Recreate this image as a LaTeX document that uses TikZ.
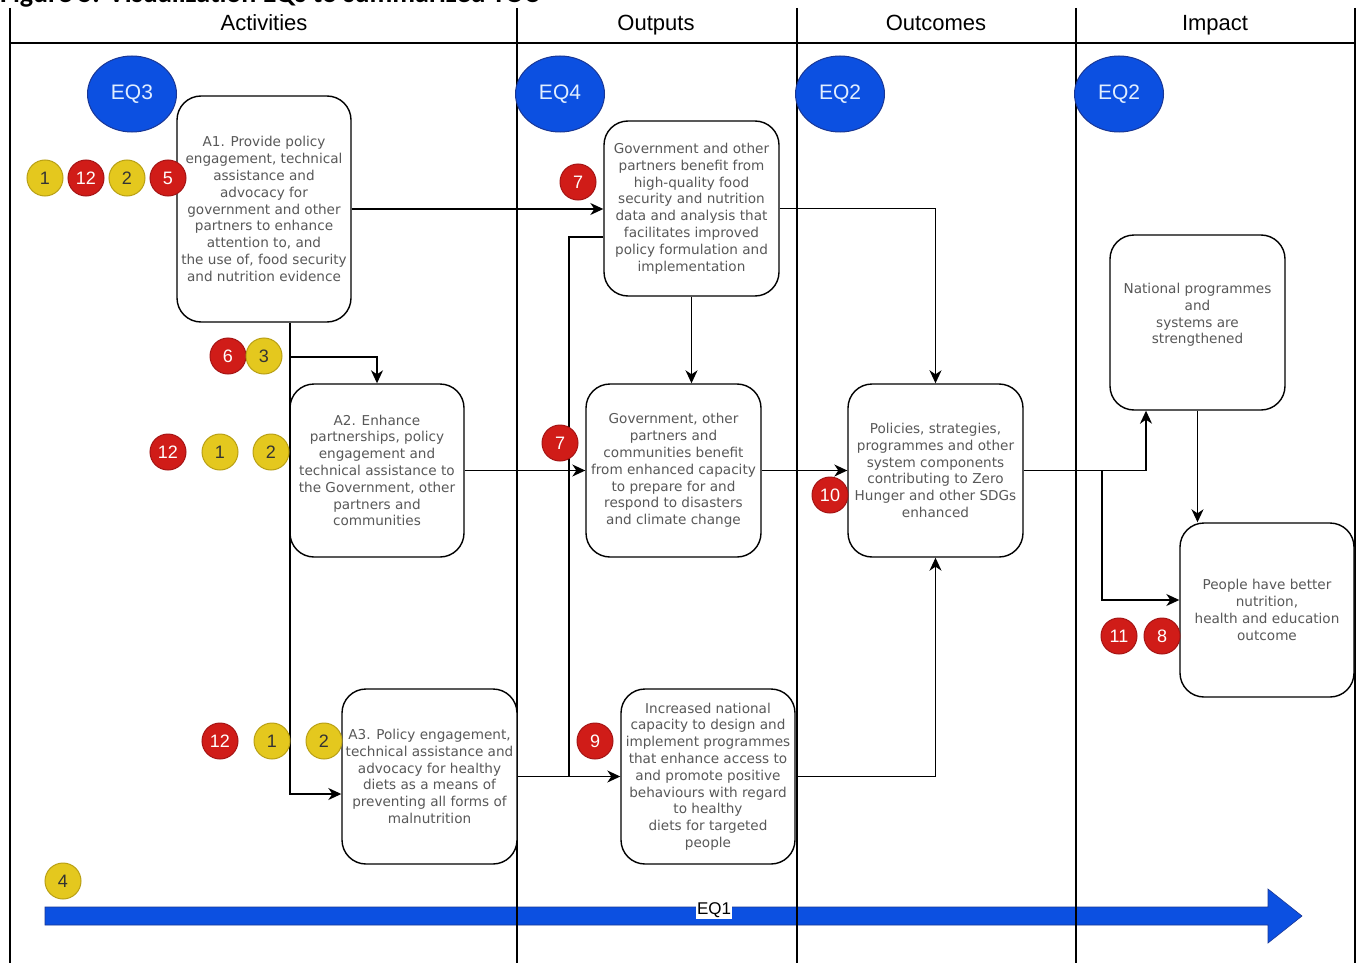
\documentclass[tikz,border=0pt]{standalone}
\usepackage{fontspec}
\setmainfont{Liberation Sans}
\newfontfamily\boxfont{DejaVu Sans}
\newfontfamily\titlefont{Carlito}
\usetikzlibrary{shapes.geometric,arrows.meta}
\definecolor{eqblue}{RGB}{12,80,225}
\definecolor{eqborder}{RGB}{25,55,150}
\definecolor{eqtext}{RGB}{225,238,255}
\definecolor{byellow}{RGB}{228,200,30}
\definecolor{byborder}{RGB}{185,160,20}
\definecolor{bred}{RGB}{208,28,24}
\definecolor{brborder}{RGB}{165,20,20}
\definecolor{boxtext}{RGB}{88,88,88}
\begin{document}
\begin{tikzpicture}[x=1pt,y=-1pt,
  lane/.style={line width=1.3pt,black},
  hdr/.style={font=\fontsize{22}{22}\selectfont,inner sep=0pt,anchor=base},
  box/.style={draw,line width=1.4pt,rounded corners=24pt,fill=white,
    minimum width=174pt,minimum height=174pt,inner sep=0pt,align=center,
    text=boxtext,font=\boxfont\fontsize{13.6}{16.8}\selectfont},
  eq/.style={ellipse,draw=eqborder,line width=1pt,fill=eqblue,text=eqtext,
    minimum width=89pt,minimum height=76pt,inner sep=0pt,font=\fontsize{21}{21}\selectfont},
  yb/.style={circle,draw=byborder,line width=1pt,fill=byellow,text=black!80,
    minimum size=36pt,inner sep=0pt,font=\fontsize{18}{18}\selectfont},
  rb/.style={circle,draw=brborder,line width=1pt,fill=bred,text=white,
    minimum size=36pt,inner sep=0pt,font=\fontsize{18}{18}\selectfont},
  arr/.style={line width=1.5pt,-{Stealth[length=13pt,width=12pt,inset=4pt]}},
  conn/.style={line width=1.5pt}]
\useasboundingbox (0,0) rectangle (1360,963);
\fill[white] (0,0) rectangle (1360,963);

% title (cut off at the top, as in the source)
\node[anchor=base west,inner sep=0pt,font=\titlefont\bfseries\fontsize{28}{28}\selectfont] (title) at (0,2.5) {Figure 5. Visualization EQs to summarized TOC};

% EQ1 arrow
\fill[eqblue] (45,907) -- (1268,907) -- (1268,889) -- (1302,916) -- (1268,943) -- (1268,925) -- (45,925) -- cycle;
\draw[eqborder,line width=0.6pt] (45,907) -- (1268,907) -- (1268,889) -- (1302,916) -- (1268,943) -- (1268,925) -- (45,925) -- cycle;

% lanes
\draw[lane] (10,8) -- (10,963);
\draw[lane] (517,8) -- (517,963);
\draw[lane] (797,8) -- (797,963);
\draw[lane] (1076,8) -- (1076,963);
\draw[lane] (1355,8) -- (1355,963);
\draw[lane] (10,43) -- (1355,43);

\node[fill=white,inner sep=1pt,font=\fontsize{17}{17}\selectfont] (eq1) at (714,910) {EQ1};

% headers
\node[hdr] (hA) at (264,31) {Activities};
\node[hdr] (hO) at (656,31) {Outputs};
\node[hdr] (hC) at (936,31) {Outcomes};
\node[hdr] (hI) at (1215,31) {Impact};

% EQ ellipses
\node[eq] (eq3) at (132,94) {EQ3};
\node[eq] (eq4) at (560,94) {EQ4};
\node[eq] (eq2a) at (840,94) {EQ2};
\node[eq] (eq2b) at (1119,94) {EQ2};

% boxes
\node[box,minimum height=226pt] (A1) at (264,209) {A1. Provide policy\\engagement, technical\\assistance and\\advocacy for\\government and other\\partners to enhance\\attention to, and\\the use of, food security\\and nutrition evidence};
\node[box,minimum height=173pt] (A2) at (377,470.5) {A2. Enhance\\partnerships, policy\\engagement and\\technical assistance to\\the Government, other\\partners and\\communities};
\node[box,minimum width=175pt,minimum height=175pt] (A3) at (429.5,776.5) {A3. Policy engagement,\\technical assistance and\\advocacy for healthy\\diets as a means of\\preventing all forms of\\malnutrition};
\node[box,minimum width=175pt,minimum height=175pt] (O1) at (691.5,208.5) {Government and other\\partners benefit from\\high-quality food\\security and nutrition\\data and analysis that\\facilitates improved\\policy formulation and\\implementation};
\node[box,minimum width=175pt,minimum height=173pt] (O2) at (673.5,470.5) {Government, other\\partners and\\communities benefit\\from enhanced capacity\\to prepare for and\\respond to disasters\\and climate change};
\node[box,minimum width=174pt,minimum height=175pt] (O3) at (708,776.5) {Increased national\\capacity to design and\\implement programmes\\that enhance access to\\and promote positive\\behaviours with regard\\to healthy\\diets for targeted\\people};
\node[box,minimum width=175pt,minimum height=173pt] (OC) at (935.5,470.5) {Policies, strategies,\\programmes and other\\system components\\contributing to Zero\\Hunger and other SDGs\\enhanced};
\node[box,minimum width=175pt,minimum height=175pt] (I1) at (1197.5,322.5) {National programmes\\and\\systems are\\strengthened\\[1.2pt]};
\node[box,minimum width=174pt,minimum height=174pt] (I2) at (1267,610) {People have better\\nutrition,\\health and education\\outcome};

% junction coordinates
\coordinate (j1) at (290,357);
\coordinate (j2) at (290,794);
\coordinate (j3) at (569,776.5);
\coordinate (j4) at (569,237);
\coordinate (j5) at (1146,470.5);
\coordinate (j6) at (1102,470.5);
\coordinate (j7) at (1102,600);

% connectors
\draw[arr] (A1.east) -- (A1.east -| O1.west);
\draw[arr] (A1.south -| j1) -- (j2) -- (j2 -| A3.west);
\draw[arr] (j1) -| (A2.north);
\draw[arr] (A2.east) -- (A2.east -| O2.west);
\draw[arr] (A3.east) -- (O3.west);
\draw[conn] (j3) -- (j4) -- (j4 -| O1.west);
\draw[arr] (O1.south) -- (O1.south |- O2.north);
\draw[arr] (O1.east) -| (OC.north);
\draw[arr] (O2.east) -- (OC.west);
\draw[arr] (O3.east) -| (OC.south);
\draw[arr] (OC.east) -- (j5) -- (j5 |- I1.south);
\draw[arr] (j6) -- (j7) -- (j7 -| I2.west);
\draw[arr] (I1.south) -- (I1.south |- I2.north);

% badges
\node[yb] (b1) at (45,178) {1};
\node[rb] (b2) at (86,178) {12};
\node[yb] (b3) at (127,178) {2};
\node[rb] (b4) at (168,178) {5};
\node[rb] (b5) at (228,356) {6};
\node[yb] (b6) at (264,356) {3};
\node[rb] (b7) at (168,452) {12};
\node[yb] (b8) at (220,452) {1};
\node[yb] (b9) at (271,452) {2};
\node[rb] (b10) at (220,741) {12};
\node[yb] (b11) at (272,741) {1};
\node[yb] (b12) at (324,741) {2};
\node[rb] (b13) at (578,182) {7};
\node[rb] (b14) at (560,443) {7};
\node[rb] (b15) at (595,741) {9};
\node[rb] (b16) at (830,495) {10};
\node[rb] (b17) at (1119,636) {11};
\node[rb] (b18) at (1162,636) {8};
\node[yb] (b19) at (63,881) {4};
\end{tikzpicture}
\end{document}
